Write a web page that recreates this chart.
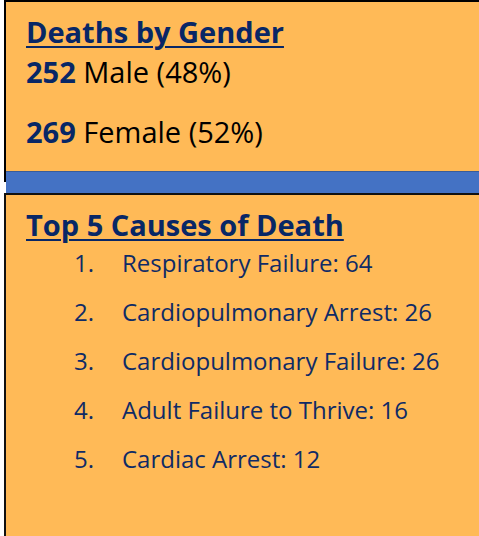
<!DOCTYPE html>
<html>
<head>
<meta charset="utf-8">
<script src="https://cdn.jsdelivr.net/npm/chart.js@4/dist/chart.umd.min.js"></script>
<style>
  html, body { margin: 0; padding: 0; width: 479px; height: 536px; overflow: hidden; background: #ffffff; }
  body { position: relative; font-family: "Open Sans", "Noto Sans", sans-serif; }
  .panel { position: absolute; background: #FFBA57; box-sizing: border-box; }
  #top { left: 4px; top: 0; width: 480px; height: 182px; border-top: 2px solid #000; border-left: 2px solid #000; }
  #blue { position: absolute; left: 6px; top: 171px; width: 480px; height: 22px; background: #4472C4; border-top: 1px solid #3A5C99; box-sizing: border-box; }
  #bottom { left: 4px; top: 193px; width: 480px; height: 350px; border-top: 2px solid #111; border-left: 2px solid #111; }
  .title { position: absolute; left: 26px; font-weight: 700; color: #082766; font-size: 29px; line-height: 1; text-decoration: underline; text-decoration-thickness: 2px; text-underline-offset: 3px; white-space: nowrap; }
  .stat { position: absolute; left: 26px; font-size: 29px; line-height: 1; color: #000; white-space: nowrap; }
  .stat b { color: #082766; font-weight: 700; }
  .item { position: absolute; font-size: 24px; line-height: 1; color: #0F2B66; white-space: nowrap; }
  .num { position: absolute; left: 74px; }
  .txt { position: absolute; left: 122px; }
</style>
</head>
<body>
<div id="top" class="panel"></div>
<div id="bottom" class="panel"></div>
<div id="blue"></div>
<div id="content"></div>
<script>
const genderTitle = "Deaths by Gender";
const genders = ["Male", "Female"];
const genderCounts = [252, 269];
const genderPercents = [48, 52];
const causesTitle = "Top 5 Causes of Death";
const causes = ["Respiratory Failure", "Cardiopulmonary Arrest", "Cardiopulmonary Failure", "Adult Failure to Thrive", "Cardiac Arrest"];
const causeCounts = [64, 26, 26, 16, 12];

const content = document.getElementById('content');
function add(cls, html, top, left) {
  const d = document.createElement('div');
  d.className = cls;
  d.innerHTML = html;
  d.style.top = top + 'px';
  if (left !== undefined) d.style.left = left + 'px';
  content.appendChild(d);
  return d;
}
add('title', genderTitle, 17);
const statTops = [57, 117];
genders.forEach((g, i) => {
  add('stat', '<b>' + genderCounts[i] + '</b> ' + g + ' (' + genderPercents[i] + '%)', statTops[i]);
});
add('title', causesTitle, 210);
causes.forEach((c, i) => {
  const top = 251 + i * 49;
  add('item num', (i + 1) + '.', top);
  add('item txt', c + ': ' + causeCounts[i], top);
});
</script>
</body>
</html>
